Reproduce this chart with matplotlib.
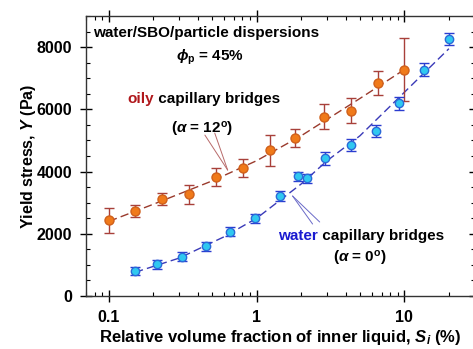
import matplotlib.pyplot as plt
import numpy as np
from matplotlib.ticker import FixedLocator, NullFormatter

plt.rcParams['font.family'] = ['Liberation Sans', 'DejaVu Sans']
plt.rcParams['mathtext.fontset'] = 'custom'
plt.rcParams['mathtext.it'] = 'Liberation Sans:italic:bold'
plt.rcParams['mathtext.rm'] = 'Liberation Sans:bold'

# oily capillary bridges (alpha = 12 deg)
s_oil = [0.1, 0.15, 0.23, 0.35, 0.53, 0.81, 1.23, 1.83, 2.85, 4.36, 6.67, 10.0]
y_oil = [2440, 2740, 3120, 3270, 3830, 4100, 4690, 5070, 5760, 5950, 6850, 7280]
e_oil = [400, 190, 190, 300, 300, 290, 500, 285, 400, 400, 390, 1000]
fit_s_oil = [0.1, 0.2, 0.5, 1.0, 2.0, 5.0, 10.0]
fit_y_oil = [2400, 2950, 3700, 4350, 5150, 6350, 7280]

# water capillary bridges (alpha = 0 deg)
s_wat = [0.151, 0.212, 0.313, 0.453, 0.664, 0.98, 1.43, 1.90, 2.19, 2.91, 4.38, 6.45, 9.26, 13.6, 19.9]
y_wat = [800, 1020, 1260, 1600, 2070, 2500, 3210, 3850, 3780, 4420, 4850, 5300, 6190, 7280, 8260]
e_wat = [135, 150, 150, 150, 150, 150, 150, 150, 150, 200, 200, 200, 200, 200, 200]
fit_s_wat = [0.15, 0.3, 0.6, 1.0, 2.0, 3.0, 5.0, 10.0, 20.0]
fit_y_wat = [760, 1220, 1900, 2500, 3600, 4350, 5150, 6550, 7950]

fig = plt.figure(figsize=(4.73, 3.49), dpi=100)
ax = fig.add_axes([0.182, 0.152, 0.822, 0.802])

ax.plot(fit_s_oil, fit_y_oil, ls=(0, (6, 3)), color='#9a3a2c', lw=1.0, zorder=2)
ax.plot(fit_s_wat, fit_y_wat, ls=(0, (6, 3)), color='#3a3ab8', lw=1.0, zorder=2)

ax.errorbar(s_oil, y_oil, yerr=e_oil, fmt='o', ms=6.5, mfc='#f07a1a', mec='#d0601a',
            ecolor='#a8403a', elinewidth=1.0, capsize=3.6, capthick=1.0, zorder=3)
ax.errorbar(s_wat, y_wat, yerr=e_wat, fmt='o', ms=6, mfc='#30c8f0', mec='#2a6ad8',
            ecolor='#2a3cd0', elinewidth=1.0, capsize=3.6, capthick=1.0, zorder=3)

ax.set_xscale('log')
ax.set_xlim(0.07, 30)
ax.set_ylim(0, 9000)
ax.set_xticks([0.1, 1, 10])
ax.set_xticklabels(['0.1', '1', '10'])
ax.xaxis.set_minor_locator(FixedLocator([m * d for d in [0.01, 0.1, 1, 10] for m in range(2, 10)]))
ax.xaxis.set_minor_formatter(NullFormatter())
ax.set_yticks([0, 2000, 4000, 6000, 8000])
ax.yaxis.set_minor_locator(FixedLocator(np.arange(0, 9001, 500)))

ax.tick_params(which='major', direction='inout', length=8, width=1.0, top=True, right=True,
               labelsize=11.5, pad=6)
ax.tick_params(which='minor', direction='in', length=3, width=0.8, top=True, right=True)
for lab in ax.get_xticklabels() + ax.get_yticklabels():
    lab.set_fontweight('bold')
for sp in ax.spines.values():
    sp.set_linewidth(1.0)
    sp.set_color('#333333')

ax.set_xlabel(r'Relative volume fraction of inner liquid, $S_i$ (%)', fontsize=12,
              fontweight='bold', labelpad=2)
ax.set_ylabel(r'Yield stress, $Y$ (Pa)', fontsize=11.5, fontweight='bold', labelpad=-1)

fs = 11
ax.text(0.078, 8450, 'water/SBO/particle dispersions', fontsize=fs, fontweight='bold',
        va='center', ha='left')
ax.text(0.48, 7680, r'$\phi_\mathrm{p}$ = 45%', fontsize=fs, fontweight='bold',
        va='center', ha='center')

t1 = ax.text(0.134, 6200, 'oily', color='#b0181c', fontsize=fs, fontweight='bold',
             va='baseline', ha='left')
ax.annotate(' capillary bridges', xy=(1, 0), xycoords=t1, fontsize=fs, fontweight='bold',
            va='bottom', ha='left')
ax.text(0.43, 5365, r'($\alpha$ = 12$^\mathrm{o}$)', fontsize=fs, fontweight='bold',
        va='center', ha='center')
for tail in [(0.446, 5173), (0.52, 5237)]:
    ax.annotate('', xy=(0.636, 4048), xytext=tail,
                arrowprops=dict(arrowstyle='-', color='#b86a6a', lw=0.7,
                                shrinkA=0, shrinkB=0))

t2 = ax.text(1.39, 1800, 'water', color='#1a1ad0', fontsize=fs, fontweight='bold',
             va='baseline', ha='left')
ax.annotate(' capillary bridges', xy=(1, 0), xycoords=t2, fontsize=fs, fontweight='bold',
            va='bottom', ha='left')
ax.text(4.97, 1220, r'($\alpha$ = 0$^\mathrm{o}$)', fontsize=fs, fontweight='bold',
        va='center', ha='center')
for tail in [(2.39, 2313), (2.67, 2378)]:
    ax.annotate('', xy=(1.75, 3213), xytext=tail,
                arrowprops=dict(arrowstyle='-', color='#6a6ac8', lw=0.7,
                                shrinkA=0, shrinkB=0))

fig.savefig('out.png', dpi=100)
